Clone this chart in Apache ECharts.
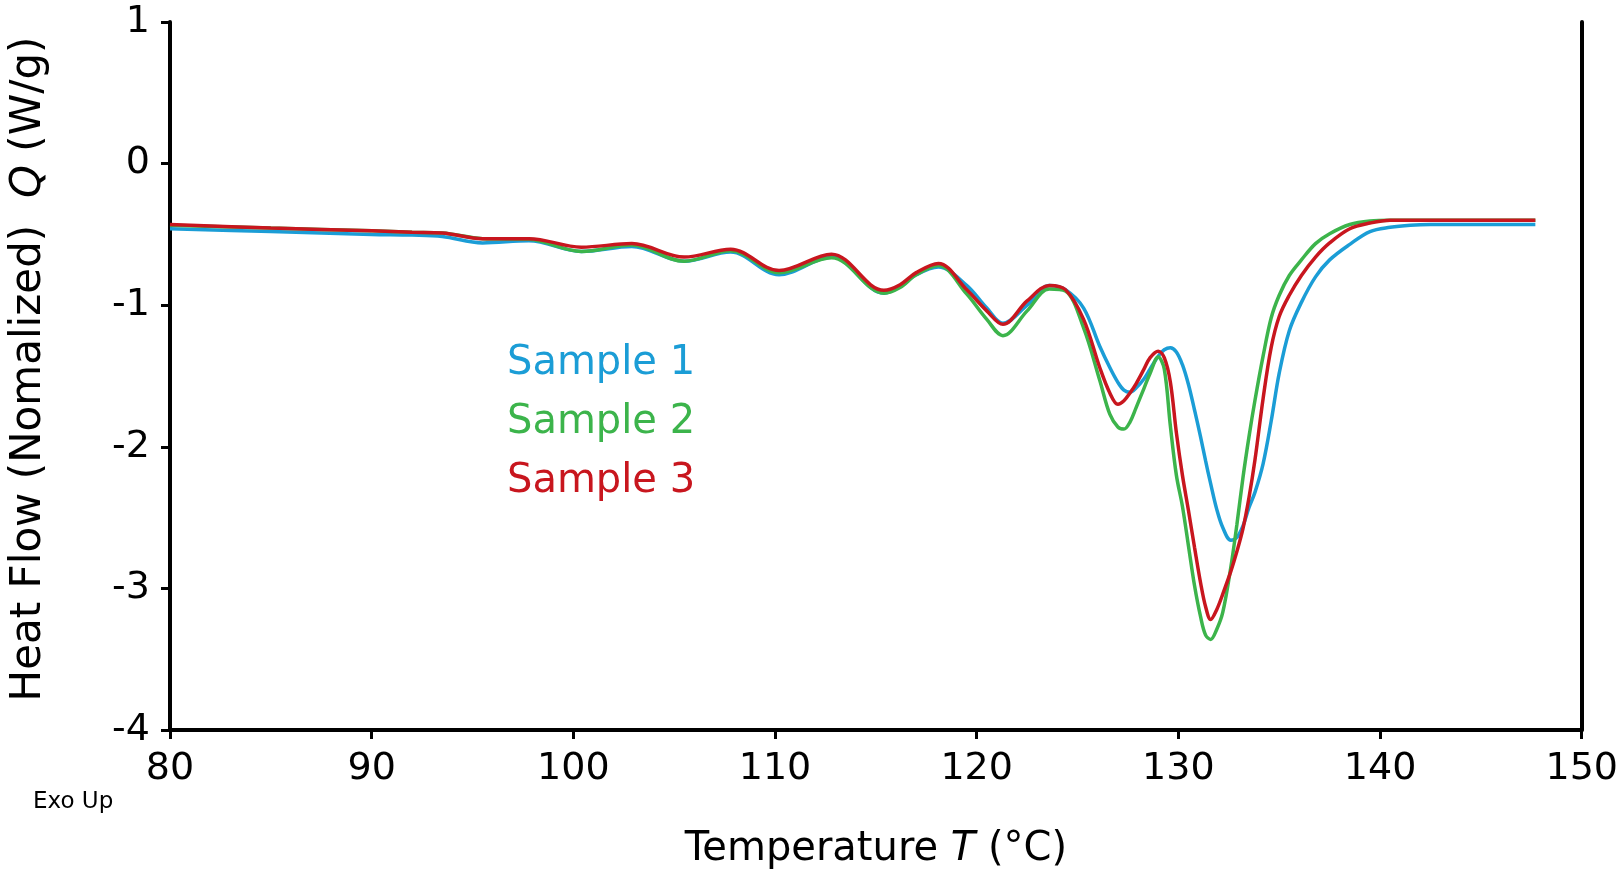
<!DOCTYPE html>
<html>
<head>
<meta charset="utf-8">
<script src="https://cdn.jsdelivr.net/npm/echarts@6/dist/echarts.min.js"></script>
<style>html,body{margin:0;padding:0;background:#fff}#c{width:1621px;height:875px}</style>
</head>
<body>
<div id="c"></div>
<script>
const temps = [80, 85, 90, 92, 93.5, 95.5, 97.8, 100.4, 102.9, 105.5, 107.8, 110.2, 112.8, 115.4, 116.2, 117, 118.1, 119.5, 120.5, 121.3, 122.5, 123.6, 124.4, 125.3, 126.1, 126.6, 127.0, 127.3, 127.6, 127.9, 128.3, 128.6, 129.0, 129.3, 129.6, 129.9, 130.2, 130.5, 130.8, 131.1, 131.35, 131.6, 131.9, 132.2, 132.6, 132.9, 133.2, 133.5, 133.8, 134.2, 134.6, 135.0, 135.5, 136.1, 136.8, 137.5, 138.5, 139.5, 140.5, 141.5, 142.5, 144, 147.7];

const sample1 = [-0.46, -0.48, -0.50, -0.505, -0.515, -0.56, -0.545, -0.62, -0.585, -0.69, -0.625, -0.785, -0.66, -0.915, -0.87, -0.785, -0.73, -0.86, -1.02, -1.128, -1.00, -0.86, -0.89, -1.02, -1.29, -1.44, -1.545, -1.60, -1.615, -1.585, -1.52, -1.45, -1.36, -1.315, -1.30, -1.33, -1.42, -1.56, -1.74, -1.93, -2.10, -2.26, -2.44, -2.57, -2.66, -2.64, -2.56, -2.43, -2.32, -2.12, -1.82, -1.48, -1.18, -0.98, -0.80, -0.68, -0.57, -0.48, -0.45, -0.435, -0.43, -0.43, -0.43];

const sample2 = [-0.435, -0.455, -0.475, -0.485, -0.49, -0.53, -0.535, -0.62, -0.575, -0.69, -0.615, -0.77, -0.665, -0.915, -0.875, -0.785, -0.72, -0.92, -1.10, -1.215, -1.04, -0.885, -0.90, -1.16, -1.53, -1.77, -1.86, -1.875, -1.825, -1.725, -1.585, -1.48, -1.365, -1.45, -1.85, -2.20, -2.42, -2.70, -2.98, -3.20, -3.33, -3.36, -3.29, -3.17, -2.85, -2.55, -2.22, -1.93, -1.67, -1.36, -1.09, -0.93, -0.79, -0.68, -0.565, -0.495, -0.43, -0.405, -0.40, -0.40, -0.40, -0.40, -0.40];

const sample3 = [-0.43, -0.455, -0.475, -0.485, -0.49, -0.53, -0.53, -0.59, -0.565, -0.66, -0.605, -0.755, -0.64, -0.895, -0.855, -0.77, -0.705, -0.89, -1.04, -1.135, -0.97, -0.86, -0.89, -1.10, -1.44, -1.62, -1.70, -1.675, -1.62, -1.555, -1.45, -1.37, -1.325, -1.37, -1.54, -1.90, -2.20, -2.45, -2.71, -2.96, -3.13, -3.22, -3.15, -3.04, -2.88, -2.74, -2.58, -2.36, -2.09, -1.66, -1.30, -1.08, -0.93, -0.79, -0.66, -0.56, -0.46, -0.42, -0.40, -0.40, -0.40, -0.40, -0.40];

const seriesNames = ['Sample 1', 'Sample 2', 'Sample 3'];
const seriesColors = ['#1B9DD6', '#3CB44B', '#C8161E'];
const xTicks = [80, 90, 100, 110, 120, 130, 140, 150];
const yTicks = [-4, -3, -2, -1, 0, 1];

const FONT = 'DejaVu Sans';
const chart = echarts.init(document.getElementById('c'));
const allVals = [sample1, sample2, sample3];

chart.setOption({
  animation: false,
  backgroundColor: '#ffffff',
  textStyle: { fontFamily: FONT },
  grid: { left: 166, right: 37, top: 22, bottom: 145, containLabel: false },
  legend: {
    orient: 'vertical',
    left: 496,
    top: 339,
    itemGap: 19,
    itemWidth: 1,
    itemHeight: 40,
    icon: 'rect',
    itemStyle: { opacity: 0 },
    lineStyle: { opacity: 0 },
    selectedMode: false,
    textStyle: { fontSize: 40, fontFamily: FONT },
    data: seriesNames.map((n, i) => ({ name: n, textStyle: { color: seriesColors[i] } }))
  },
  graphic: [{
    type: 'text', left: 33, top: 791,
    style: { text: 'Exo Up', fontSize: 23, fontFamily: FONT, fill: '#000' }
  }],
  xAxis: {
    type: 'value', min: xTicks[0], max: xTicks[xTicks.length - 1], interval: 10,
    name: 'Temperature {i|T} (°C)',
    nameLocation: 'middle', nameGap: 100,
    nameTextStyle: { fontSize: 40, color: '#000', fontFamily: FONT,
      rich: { i: { fontSize: 40, fontStyle: 'italic', fontFamily: FONT, color: '#000' } } },
    axisLine: { show: true, onZero: false, lineStyle: { color: '#000', width: 4 } },
    axisTick: { show: true, inside: false, length: 9, lineStyle: { color: '#000', width: 3 } },
    axisLabel: { fontSize: 38, color: '#000', margin: 20, fontFamily: FONT },
    splitLine: { show: false }
  },
  yAxis: [{
    type: 'value', min: yTicks[0], max: yTicks[yTicks.length - 1], interval: 1,
    name: 'Heat Flow (Nomalized)  {i|Q} (W/g)',
    nameLocation: 'middle', nameGap: 120,
    nameTextStyle: { fontSize: 42, color: '#000', fontFamily: FONT, padding: [0, 0, 0, 14],
      rich: { i: { fontSize: 42, fontStyle: 'italic', fontFamily: FONT, color: '#000' } } },
    axisLine: { show: true, onZero: false, lineStyle: { color: '#000', width: 4 } },
    axisTick: { show: true, inside: false, length: 9, lineStyle: { color: '#000', width: 3 } },
    axisLabel: { fontSize: 38, color: '#000', margin: 20, fontFamily: FONT },
    splitLine: { show: false }
  }, {
    type: 'value', min: yTicks[0], max: yTicks[yTicks.length - 1], interval: 1, position: 'right',
    axisLine: { show: true, onZero: false, lineStyle: { color: '#000', width: 4 } },
    axisTick: { show: false }, axisLabel: { show: false }, splitLine: { show: false }
  }],
  series: seriesNames.map((n, i) => ({
    name: n, type: 'line', showSymbol: false, smooth: 0.35,
    color: seriesColors[i],
    lineStyle: { width: 3.5, color: seriesColors[i] },
    data: temps.map((t, k) => [t, allVals[i][k]]),
    z: 2 + i
  }))
});
</script>
</body>
</html>
